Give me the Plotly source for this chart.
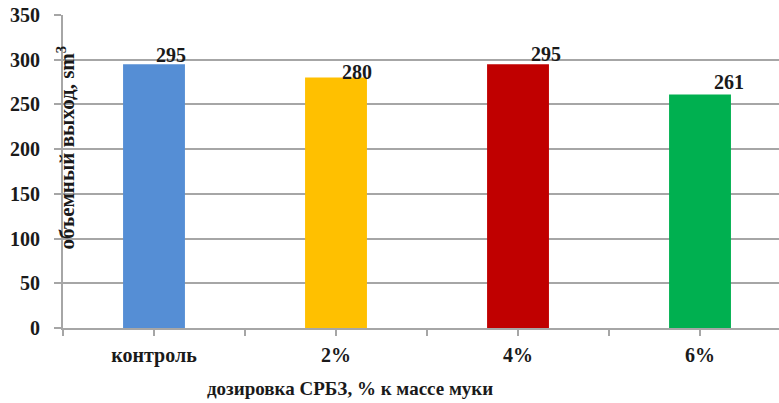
import plotly.graph_objects as go

# Bread volume by dosage of the additive
categories = ["контроль", "2%", "4%", "6%"]
volumes = [295, 280, 295, 261]
bar_colors = ["#558ED5", "#FFC000", "#C00000", "#00B050"]

x_title = "дозировка СРБЗ, % к массе муки"
y_title = "объемный выход, sm<sup>3</sup>"
y_ticks = [0, 50, 100, 150, 200, 250, 300, 350]

# value-label offsets in pixels (layout only)
label_dx = [17, 21, 28, 29]
label_dy = [9, 6, 10, 13]

positions = list(range(len(categories)))
serif = "Times New Roman"
grid = "#A6A6A6"
ink = "#1a1a1a"

fig = go.Figure()
fig.add_trace(go.Bar(
    x=positions,
    y=volumes,
    width=0.34,
    marker=dict(color=bar_colors, line=dict(width=0)),
    hoverinfo="skip",
))

for xi, v, dx, dy in zip(positions, volumes, label_dx, label_dy):
    fig.add_annotation(
        x=xi, y=v, text="<b>%d</b>" % v, showarrow=False,
        xanchor="center", yanchor="middle", xshift=dx, yshift=dy,
        font=dict(family=serif, size=20, color=ink),
    )

fig.add_annotation(
    xref="paper", yref="paper", x=0.0, y=0.5,
    text="<b>" + y_title + "</b>", textangle=-90, showarrow=False,
    xanchor="center", yanchor="middle", xshift=3, yshift=24,
    font=dict(family=serif, size=21, color=ink),
)
fig.add_annotation(
    xref="paper", yref="paper", x=0.0, y=0.0,
    text="<b>" + x_title + "</b>", showarrow=False,
    xanchor="center", yanchor="middle", xshift=287, yshift=-60,
    font=dict(family=serif, size=19, color=ink),
)

fig.update_layout(
    width=779, height=403,
    margin=dict(l=63, r=0, t=15, b=75),
    paper_bgcolor="white", plot_bgcolor="white",
    showlegend=False,
    font=dict(family=serif),
    xaxis=dict(
        range=[-0.5, 3.434],
        tickvals=positions, ticktext=["<b>%s</b>" % c for c in categories],
        ticks="outside", ticklen=6, tickwidth=2, tickcolor=grid,
        showline=True, linecolor=grid, linewidth=2,
        showgrid=False, zeroline=False,
        ticklabelstandoff=2,
        minor=dict(tick0=-0.5, dtick=1, ticks="outside", ticklen=6,
                   tickwidth=2, tickcolor=grid, showgrid=False),
        tickfont=dict(family=serif, size=20, color=ink),
    ),
    yaxis=dict(
        range=[0, 350], tickvals=y_ticks,
        ticktext=["<b>%d</b>" % t for t in y_ticks],
        ticks="outside", ticklen=7, tickwidth=2, tickcolor=grid,
        showline=True, linecolor=grid, linewidth=2,
        showgrid=True, gridcolor=grid, gridwidth=2,
        zeroline=False,
        ticklabelstandoff=10,
        tickfont=dict(family=serif, size=20, color=ink),
    ),
)

fig.write_html("out.html")
